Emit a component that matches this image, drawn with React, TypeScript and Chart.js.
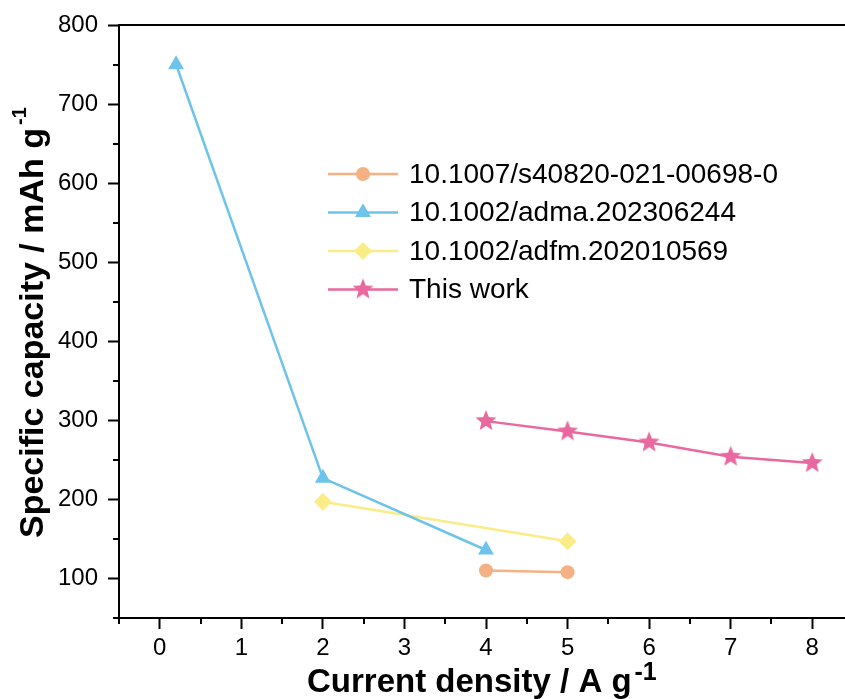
import React, { useEffect, useRef } from 'react';
import { Chart, registerables } from 'chart.js';
import { drawPoint } from 'chart.js/helpers';

Chart.register(...registerables);

const seriesNames = [
  '10.1007/s40820-021-00698-0',
  '10.1002/adma.202306244',
  '10.1002/adfm.202010569',
  'This work',
];
const seriesColors = ['#F4B183', '#6DC3EA', '#FAED88', '#E8689F'];

const s1X = [4, 5];
const s1Y = [110, 108];
const s2X = [0.2, 2, 4];
const s2Y = [750, 227, 136];
const s3X = [2, 5];
const s3Y = [197, 147];
const s4X = [4, 5, 6, 7, 8];
const s4Y = [299, 286, 272, 254, 246];

const xTitle = 'Current density / A g';
const yTitle = 'Specific capacity / mAh g';
const unitSup = '-1';

const FONT = '"Liberation Sans", Arial, sans-serif';

function makeStar(color: string, outer: number, inner: number) {
  const size = Math.ceil(outer * 2 + 2);
  const c = document.createElement('canvas');
  c.width = size;
  c.height = size;
  const g = c.getContext('2d')!;
  g.beginPath();
  for (let i = 0; i < 10; i++) {
    const r = i % 2 === 0 ? outer : inner;
    const a = -Math.PI / 2 + (i * Math.PI) / 5;
    const px = size / 2 + r * Math.cos(a);
    const py = size / 2 + r * Math.sin(a);
    if (i === 0) g.moveTo(px, py);
    else g.lineTo(px, py);
  }
  g.closePath();
  g.fillStyle = color;
  g.fill();
  return c;
}

const zip = (xs: number[], ys: number[]) => xs.map((x, i) => ({ x, y: ys[i] }));
const isInt = (v: number) => Math.abs(v - Math.round(v)) < 1e-6;

export default function App() {
  const ref = useRef<HTMLCanvasElement | null>(null);

  useEffect(() => {
    if (!ref.current) return;
    const star = makeStar(seriesColors[3], 11, 4.8);
    const pointStyles: any[] = ['circle', 'triangle', 'rectRot', star];
    const pointRadii = [7, 9.2, 9, 11];
    const xs = [s1X, s2X, s3X, s4X];
    const ys = [s1Y, s2Y, s3Y, s4Y];

    const datasets = seriesNames.map((name, i) => ({
      label: name,
      data: zip(xs[i], ys[i]),
      borderColor: seriesColors[i],
      backgroundColor: seriesColors[i],
      borderWidth: 2.5,
      pointStyle: pointStyles[i],
      pointRadius: pointRadii[i],
      pointBorderWidth: 0,
      pointBackgroundColor: seriesColors[i],
      pointBorderColor: seriesColors[i],
      tension: 0,
      fill: false,
    }));

    const extras = {
      id: 'extras',
      afterDraw(chart: any) {
        const { ctx, chartArea } = chart;
        const xs = chart.scales.x;
        const ysc = chart.scales.y;
        ctx.save();
        // top border
        ctx.strokeStyle = '#000';
        ctx.lineWidth = 2;
        ctx.beginPath();
        ctx.moveTo(chartArea.left - 1, chartArea.top);
        ctx.lineTo(chartArea.right, chartArea.top);
        ctx.stroke();
        // minor ticks
        ctx.beginPath();
        xs.ticks.forEach((t: any) => {
          if (!isInt(t.value)) {
            const px = Math.round(xs.getPixelForValue(t.value));
            ctx.moveTo(px, chartArea.bottom);
            ctx.lineTo(px, chartArea.bottom + 6);
          }
        });
        ysc.ticks.forEach((t: any) => {
          if (Math.round(t.value) % 100 !== 0) {
            const py = Math.round(ysc.getPixelForValue(t.value));
            ctx.moveTo(chartArea.left - 6, py);
            ctx.lineTo(chartArea.left, py);
          }
        });
        ctx.stroke();

        // legend
        chart.data.datasets.forEach((ds: any, i: number) => {
          const cy = 174 + i * 38.5;
          ctx.strokeStyle = ds.borderColor;
          ctx.lineWidth = 2.5;
          ctx.beginPath();
          ctx.moveTo(328, cy);
          ctx.lineTo(398, cy);
          ctx.stroke();
          ctx.fillStyle = ds.backgroundColor;
          ctx.strokeStyle = ds.borderColor;
          drawPoint(ctx, { pointStyle: ds.pointStyle, radius: ds.pointRadius, rotation: 0, borderWidth: 0 } as any, 363, cy);
          ctx.fillStyle = '#000';
          ctx.font = `28px ${FONT}`;
          ctx.textAlign = 'left';
          ctx.textBaseline = 'middle';
          ctx.fillText(ds.label, 409, cy + 1);
        });

        // axis titles
        ctx.fillStyle = '#000';
        ctx.textAlign = 'left';
        ctx.textBaseline = 'alphabetic';
        ctx.font = `bold 33px ${FONT}`;
        ctx.fillText(xTitle, 307, 692);
        let w = ctx.measureText(xTitle).width;
        ctx.font = `bold 25px ${FONT}`;
        ctx.fillText(unitSup, 307 + w + 3, 680);

        ctx.translate(43, 538);
        ctx.rotate(-Math.PI / 2);
        ctx.font = `bold 34px ${FONT}`;
        ctx.fillText(yTitle, 0, 0);
        w = ctx.measureText(yTitle).width;
        ctx.font = `bold 20px ${FONT}`;
        ctx.fillText(unitSup, w + 3, -17);
        ctx.restore();
      },
    };

    const chart = new Chart(ref.current, {
      type: 'line',
      data: { datasets: datasets as any },
      options: {
        animation: false,
        responsive: false,
        maintainAspectRatio: false,
        devicePixelRatio: 1,
        layout: { padding: { left: 0, top: 25, right: 0, bottom: 0 } },
        plugins: { legend: { display: false }, tooltip: { enabled: false } },
        scales: {
          x: {
            type: 'linear',
            min: -0.5,
            max: 8.5,
            afterFit: (s: any) => { s.height = 81; s.paddingLeft = 0; s.paddingRight = 0; },
            ticks: {
              stepSize: 0.5,
              autoSkip: false,
              maxRotation: 0,
              minRotation: 0,
              color: '#000',
              padding: 5,
              font: { family: FONT, size: 24 },
              callback: (v: any) => (isInt(Number(v)) ? String(Math.round(Number(v))) : ''),
            },
            grid: {
              drawOnChartArea: false,
              drawTicks: true,
              tickLength: 11,
              tickWidth: 2,
              tickColor: (c: any) => (c.tick && isInt(c.tick.value) ? '#000' : 'rgba(0,0,0,0)'),
            },
            border: { display: true, color: '#000', width: 2 },
          },
          y: {
            type: 'linear',
            min: 50,
            max: 800,
            afterFit: (s: any) => { s.width = 119; s.paddingTop = 0; s.paddingBottom = 0; },
            ticks: {
              stepSize: 50,
              autoSkip: false,
              color: '#000',
              padding: 10,
              font: { family: FONT, size: 24 },
              callback: (v: any) => (Math.round(Number(v)) % 100 === 0 ? String(Math.round(Number(v))) : ''),
            },
            grid: {
              drawOnChartArea: false,
              drawTicks: true,
              tickLength: 11,
              tickWidth: 2,
              tickColor: (c: any) => (c.tick && Math.round(c.tick.value) % 100 === 0 ? '#000' : 'rgba(0,0,0,0)'),
            },
            border: { display: true, color: '#000', width: 2 },
          },
        },
      },
      plugins: [extras],
    } as any);

    return () => chart.destroy();
  }, []);

  return (
    <div style={{ position: 'fixed', left: 0, top: 0, width: 845, height: 699, overflow: 'hidden', background: '#fff' }}>
      <canvas ref={ref} width={864} height={699} style={{ display: 'block' }} />
    </div>
  );
}
